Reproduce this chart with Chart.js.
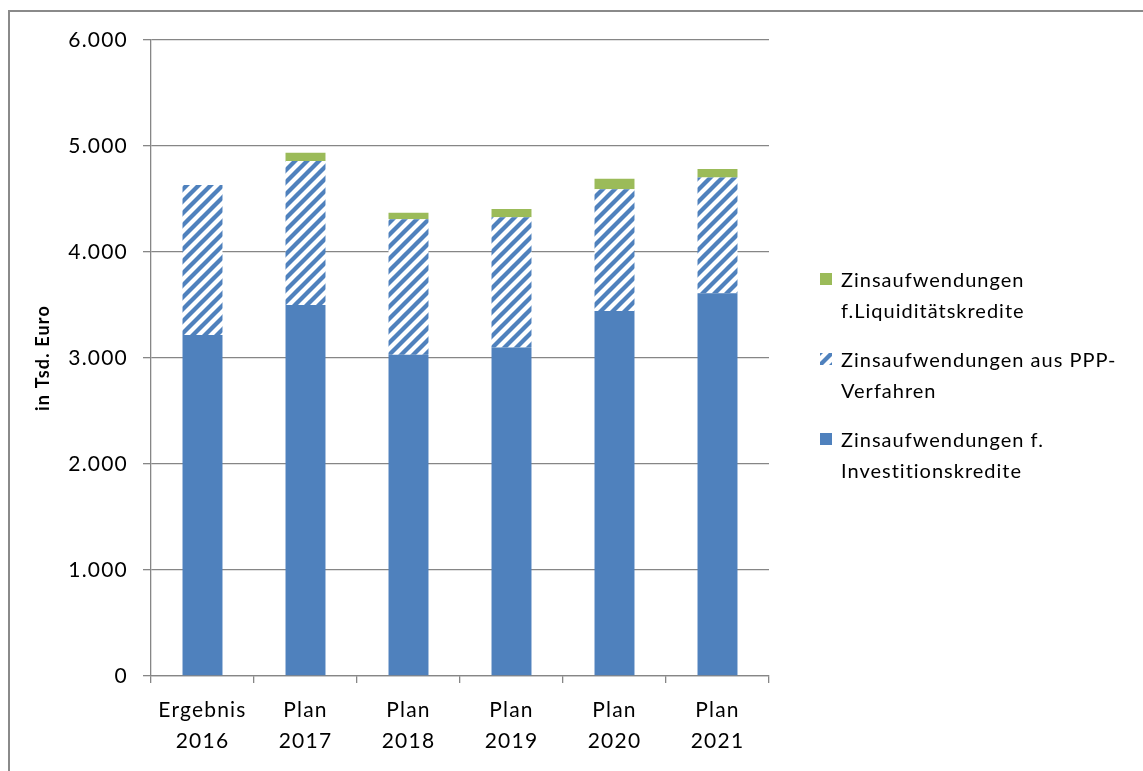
<!DOCTYPE html>
<html>
<head>
<meta charset="utf-8">
<script src="https://cdn.jsdelivr.net/npm/chart.js@4"></script>
<style>
  html, body { margin: 0; padding: 0; background: #fff; }
  #wrap { position: relative; width: 1143px; height: 771px; overflow: hidden; }
  #frame { position: absolute; left: 8px; top: 10px; width: 1200px; height: 800px; border: 2px solid #8a8a8a; box-sizing: border-box; }
  #c { position: absolute; left: 0; top: 0; }
  #legend { position: absolute; left: 820px; top: 264px; font-family: Lato, sans-serif; font-size: 20px; letter-spacing: 1px; color: #000; }
  .item { position: relative; height: 62px; margin-bottom: 18px; }
  .item .txt { position: absolute; left: 21px; top: 0; line-height: 31px; white-space: nowrap; }
  .item canvas { position: absolute; left: 0; top: 9px; }
</style>
</head>
<body>
<div id="wrap">
  <div id="frame"></div>
  <canvas id="c" width="1143" height="771"></canvas>
  <div id="legend"></div>
</div>
<script>
// ---- data ----
const categories = [['Ergebnis', '2016'], ['Plan', '2017'], ['Plan', '2018'], ['Plan', '2019'], ['Plan', '2020'], ['Plan', '2021']];
const investitionskredite = [3217, 3500, 3030, 3100, 3443, 3610];
const pppVerfahren = [1415, 1358, 1278, 1227, 1148, 1094];
const liquiditaetskredite = [0, 79, 63, 79, 99, 79];
const seriesLabels = [
  ['Zinsaufwendungen f.', 'Investitionskredite'],
  ['Zinsaufwendungen aus PPP-', 'Verfahren'],
  ['Zinsaufwendungen', 'f.Liquiditätskredite']
];
const yTicks = [0, 1000, 2000, 3000, 4000, 5000, 6000];

// ---- styles ----
const BLUE = '#4F81BD';
const GREEN = '#9BBB59';
const GRID = '#868686';

function makeHatch(size) {
  const c = document.createElement('canvas');
  c.width = size; c.height = size;
  const g = c.getContext('2d');
  g.fillStyle = '#fff';
  g.fillRect(0, 0, size, size);
  g.strokeStyle = BLUE;
  g.lineWidth = 4.3;
  g.lineCap = 'square';
  [-size, 0, size].forEach(dx => {
    g.beginPath();
    g.moveTo(dx - 2, size + 2);
    g.lineTo(dx + size + 2, -2);
    g.stroke();
  });
  return c;
}
const hatchTile = makeHatch(12);
const ctx = document.getElementById('c').getContext('2d');
const hatch = ctx.createPattern(hatchTile, 'repeat');

function fmt(v) { return String(v).replace(/\B(?=(\d{3})+(?!\d))/g, '.'); }

const spacingPlugin = {
  id: 'spacing',
  beforeDraw(chart) { chart.ctx.letterSpacing = '1.2px'; },
  beforeUpdate(chart) { chart.ctx.letterSpacing = '1.2px'; }
};

const chart = new Chart(ctx, {
  type: 'bar',
  data: {
    labels: categories,
    datasets: [
      { label: seriesLabels[0].join(' '), data: investitionskredite, backgroundColor: BLUE },
      { label: seriesLabels[1].join(' '), data: pppVerfahren, backgroundColor: hatch },
      { label: seriesLabels[2].join(' '), data: liquiditaetskredite, backgroundColor: GREEN }
    ]
  },
  options: {
    responsive: false,
    animation: false,
    events: [],
    layout: { padding: { left: 0, top: 40, right: 374, bottom: 0 } },
    datasets: { bar: { categoryPercentage: 0.8, barPercentage: 0.485, borderWidth: 0 } },
    plugins: { legend: { display: false }, tooltip: { enabled: false } },
    scales: {
      x: {
        stacked: true,
        offset: true,
        grid: { display: true, drawOnChartArea: false, drawTicks: true, tickLength: 7, color: GRID, lineWidth: 1.3, offset: true },
        border: { display: true, color: GRID, width: 1.3 },
        ticks: { color: '#000', font: { family: 'Lato', size: 21, lineHeight: 1.48 }, padding: 12, maxRotation: 0, autoSkip: false },
        afterFit(s) { s.height = 95; }
      },
      y: {
        stacked: true,
        min: 0,
        max: 6000,
        afterBuildTicks(s) { s.ticks = yTicks.map(v => ({ value: v })); },
        grid: { color: GRID, lineWidth: 1.3, tickLength: 8, drawTicks: true },
        border: { display: true, color: GRID, width: 1.3 },
        ticks: { color: '#000', font: { family: 'Lato', size: 21 }, padding: 15, callback: v => fmt(v) },
        title: { display: true, text: 'in Tsd. Euro', color: '#000', font: { family: 'Lato', size: 18, weight: 'bold' }, padding: { top: 32, bottom: 0 } },
        afterFit(s) { s.width = 151; }
      }
    }
  },
  plugins: [spacingPlugin]
});

// ---- HTML legend (reverse order, as in the reference) ----
const legend = document.getElementById('legend');
chart.data.datasets.slice().reverse().forEach((ds, i) => {
  const idx = chart.data.datasets.length - 1 - i;
  const item = document.createElement('div');
  item.className = 'item';
  const ic = document.createElement('canvas');
  ic.width = 12; ic.height = 12;
  const g = ic.getContext('2d');
  if (idx === 1) {
    g.fillStyle = g.createPattern(makeHatch(12), 'repeat');
  } else {
    g.fillStyle = ds.backgroundColor;
  }
  g.fillRect(0, 0, 12, 12);
  item.appendChild(ic);
  const t = document.createElement('div');
  t.className = 'txt';
  t.innerHTML = seriesLabels[idx].join('<br>');
  item.appendChild(t);
  legend.appendChild(item);
});
</script>
</body>
</html>
